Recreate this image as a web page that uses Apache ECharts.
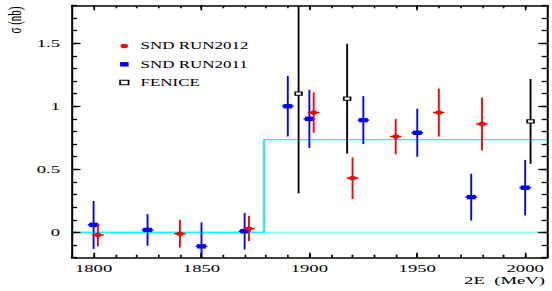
<!DOCTYPE html>
<html>
<head>
<meta charset="utf-8">
<script src="https://cdn.jsdelivr.net/npm/echarts@6/dist/echarts.min.js"></script>
<style>
html, body { margin: 0; padding: 0; overflow: hidden; background: #fff; }
/* the figure is drawn narrow and stretched sideways, like the original plot */
#chart { width: 325px; height: 291px; transform: scaleX(1.69846); transform-origin: 0 0; }
</style>
</head>
<body>
<div id="chart"></div>
<script>
// SND RUN2012
var redE   = [1802, 1840, 1872, 1902, 1920, 1940, 1960, 1980];
var redY   = [-0.02, -0.01, 0.03, 0.95, 0.43, 0.76, 0.95, 0.86];
var redErr = [0.09, 0.11, 0.10, 0.16, 0.165, 0.14, 0.19, 0.21];

// SND RUN2011
var blueE   = [1800, 1825, 1850, 1870, 1890, 1900, 1925, 1950, 1975, 2000];
var blueY   = [0.06, 0.02, -0.11, 0.01, 1.0, 0.9, 0.89, 0.79, 0.28, 0.355];
var blueErr = [0.19, 0.125, 0.19, 0.145, 0.24, 0.23, 0.19, 0.19, 0.185, 0.22];

// FENICE
var fenE   = [1895, 1917.5, 2002.5];
var fenY   = [1.1, 1.06, 0.88];
var fenErr = [0.79, 0.435, 0.336];

// threshold step and zero line
var stepE = [1790, 1879, 1879, 2010];
var stepY = [0, 0, 0.735, 0.735];
var zeroE = [1790, 2010];
var zeroY = [0, 0];

var xTicks = [1800, 1850, 1900, 1950, 2000];
var yTicks = [0, 0.5, 1, 1.5];

var X_MIN = 1790, X_MAX = 2010, Y_MIN = -0.2, Y_MAX = 1.8;
var HALF_BIN = 2.7;
var SERIF = 'Liberation Serif, serif';

function xAx(pos, major, withLabel){
	return {
		type: 'value', position: pos, min: X_MIN, max: X_MAX,
		interval: major ? undefined : 10,
		splitLine: { show: false },
		axisLine: { show: major, onZero: false, lineStyle: { color: '#000', width: 1.6 } },
		axisTick: major ? { inside: true, length: 5, customValues: xTicks, lineStyle: { color: '#000', width: 1 } }
		                : { inside: true, length: 3, lineStyle: { color: '#000', width: 1 } },
		axisLabel: withLabel ? { customValues: xTicks, margin: 5, fontFamily: SERIF, fontSize: 11, color: '#000',
			formatter: function(v){ return String(v); } } : { show: false },
		z: 5
	};
}
function yAx(pos, major, withLabel){
	return {
		type: 'value', position: pos, min: Y_MIN, max: Y_MAX,
		interval: major ? undefined : 0.1,
		splitLine: { show: false },
		axisLine: { show: major, onZero: false, lineStyle: { color: '#000', width: 1.2 } },
		axisTick: major ? { inside: true, length: 5, customValues: yTicks, lineStyle: { color: '#000', width: 1.3 } }
		                : { inside: true, length: 3, lineStyle: { color: '#000', width: 1.3 } },
		axisLabel: withLabel ? { customValues: yTicks, margin: 7, fontFamily: SERIF, fontSize: 11, color: '#000',
			formatter: function(v){ return String(v); } } : { show: false },
		z: 5
	};
}

function errSeries(name, E, Y, Err, color, dx, marker){
	return {
		name: name, type: 'custom', xAxisIndex: 0, yAxisIndex: 0, z: 3,
		itemStyle: { color: color },
		data: E.map(function(e, i){ return [e, Y[i], Err[i]]; }),
		renderItem: function(params, api){
			var x = api.value(0), y = api.value(1), er = api.value(2);
			var hi = api.coord([x, Math.min(y + er, Y_MAX)]);
			var lo = api.coord([x, Math.max(y - er, Y_MIN)]);
			var c = api.coord([x, y]);
			var kids = [{ type: 'line', shape: { x1: hi[0], y1: hi[1], x2: lo[0], y2: lo[1] },
				style: { stroke: color, lineWidth: 1.1 } }];
			if(dx){
				var l = api.coord([x - dx, y]), r = api.coord([x + dx, y]);
				kids.push({ type: 'line', shape: { x1: l[0], y1: l[1], x2: r[0], y2: r[1] },
					style: { stroke: color, lineWidth: 1.5 } });
			}
			kids.push(marker(c));
			return { type: 'group', children: kids };
		}
	};
}

var chart = echarts.init(document.getElementById('chart'), null, { renderer: 'svg' });
var option = {
	animation: false,
	grid: { left: 42.4, right: 3.1, top: 5.3, bottom: 33.3, containLabel: false },
	xAxis: [xAx('bottom', true, true), xAx('bottom', false, false), xAx('top', true, false), xAx('top', false, false)],
	yAxis: [yAx('left', true, true), yAx('left', false, false), yAx('right', true, false), yAx('right', false, false)],
	legend: {
		orient: 'vertical', left: 65.2, top: 35, itemGap: 6.3,
		itemWidth: 5, itemHeight: 4.5, selectedMode: false,
		textStyle: { fontFamily: SERIF, fontSize: 10, color: '#000', lineHeight: 12, padding: [0, 0, 0, 2] },
		data: [
			{ name: 'SND RUN2012', icon: 'circle', itemStyle: { color: '#ff0000' } },
			{ name: 'SND RUN2011', icon: 'rect', itemStyle: { color: '#0000ff' } },
			{ name: 'FENICE', icon: 'rect', itemStyle: { color: '#fff', borderColor: '#000', borderWidth: 1 } }
		]
	},
	graphic: [
		{ type: 'text', x: 8.3, y: 20, rotation: Math.PI / 2,
		  style: { text: 'σ (nb)', fontFamily: SERIF, fontSize: 11, fill: '#000', align: 'center', verticalAlign: 'middle' } },
		{ type: 'text', x: 320.9, y: 280,
		  style: { text: '2E  (MeV)', fontFamily: SERIF, fontSize: 11, fill: '#000', align: 'right', verticalAlign: 'middle' } }
	],
	series: [
		{ name: 'zero', type: 'line', data: zeroE.map(function(e, i){ return [e, zeroY[i]]; }),
		  symbol: 'none', lineStyle: { color: '#88ffff', width: 2 }, z: 1, silent: true },
		{ name: 'step', type: 'line', data: stepE.map(function(e, i){ return [e, stepY[i]]; }),
		  symbol: 'none', lineStyle: { color: '#00ffff', width: 1.2 }, z: 1, silent: true },
		errSeries('FENICE', fenE, fenY, fenErr, '#000', 0, function(c){
			return { type: 'rect', shape: { x: c[0] - 2, y: c[1] - 1.6, width: 4, height: 3.2 },
				style: { fill: '#fff', stroke: '#000', lineWidth: 1 } };
		}),
		errSeries('SND RUN2011', blueE, blueY, blueErr, '#0000ff', HALF_BIN, function(c){
			return { type: 'rect', shape: { x: c[0] - 2.6, y: c[1] - 2.2, width: 5.2, height: 4.4 },
				style: { fill: '#0000ff' } };
		}),
		errSeries('SND RUN2012', redE, redY, redErr, '#ff0000', HALF_BIN, function(c){
			return { type: 'circle', shape: { cx: c[0], cy: c[1], r: 2.2 }, style: { fill: '#ff0000' } };
		})
	]
};
chart.setOption(option);
</script>
</body>
</html>
